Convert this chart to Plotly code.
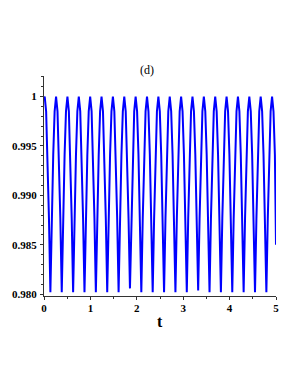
import plotly.graph_objects as go

# Time samples (peaks, shoulders, troughs of each cycle)
t_values = [
    0.000,
    0.015, 0.046, 0.076, 0.107, 0.1375, 0.168, 0.199, 0.229,
    0.260, 0.291, 0.321, 0.352, 0.3825, 0.413, 0.444, 0.474,
    0.505, 0.536, 0.566, 0.597, 0.6275, 0.658, 0.689, 0.719,
    0.750, 0.781, 0.811, 0.842, 0.8725, 0.903, 0.934, 0.964,
    0.995, 1.026, 1.056, 1.087, 1.1175, 1.148, 1.179, 1.209,
    1.240, 1.271, 1.301, 1.332, 1.3625, 1.393, 1.424, 1.454,
    1.485, 1.516, 1.546, 1.577, 1.6075, 1.638, 1.669, 1.699,
    1.730, 1.761, 1.791, 1.822, 1.8525, 1.883, 1.914, 1.944,
    1.975, 2.006, 2.036, 2.067, 2.0975, 2.128, 2.159, 2.189,
    2.220, 2.251, 2.281, 2.312, 2.3425, 2.373, 2.404, 2.434,
    2.465, 2.496, 2.526, 2.557, 2.5875, 2.618, 2.649, 2.679,
    2.710, 2.741, 2.771, 2.802, 2.8325, 2.863, 2.894, 2.924,
    2.955, 2.986, 3.016, 3.047, 3.0775, 3.108, 3.139, 3.169,
    3.200, 3.231, 3.261, 3.292, 3.3225, 3.353, 3.384, 3.414,
    3.445, 3.476, 3.506, 3.537, 3.5675, 3.598, 3.629, 3.659,
    3.690, 3.721, 3.751, 3.782, 3.8125, 3.843, 3.874, 3.904,
    3.935, 3.966, 3.996, 4.027, 4.0575, 4.088, 4.119, 4.149,
    4.180, 4.211, 4.241, 4.272, 4.3025, 4.333, 4.364, 4.394,
    4.425, 4.456, 4.486, 4.517, 4.5475, 4.578, 4.609, 4.639,
    4.670, 4.701, 4.731, 4.762, 4.7925, 4.823, 4.854, 4.884,
    4.915, 4.946, 4.976, 5.000,
]

y_values = [
    0.9997,
    1.0, 0.9985, 0.9941, 0.9877, 0.9802, 0.9877, 0.9941, 0.9985,
    1.0, 0.9985, 0.9941, 0.9877, 0.9802, 0.9877, 0.9941, 0.9985,
    1.0, 0.9985, 0.9941, 0.9877, 0.9802, 0.9877, 0.9941, 0.9985,
    1.0, 0.9985, 0.9941, 0.9877, 0.9802, 0.9877, 0.9941, 0.9985,
    1.0, 0.9985, 0.9941, 0.9877, 0.9802, 0.9877, 0.9941, 0.9985,
    1.0, 0.9985, 0.9941, 0.9877, 0.9802, 0.9877, 0.9941, 0.9985,
    1.0, 0.9985, 0.9941, 0.9877, 0.9802, 0.9877, 0.9941, 0.9985,
    1.0, 0.9985, 0.9941, 0.9877, 0.9806, 0.9877, 0.9941, 0.9985,
    1.0, 0.9985, 0.9941, 0.9877, 0.9802, 0.9877, 0.9941, 0.9985,
    1.0, 0.9985, 0.9941, 0.9877, 0.9802, 0.9877, 0.9941, 0.9985,
    1.0, 0.9985, 0.9941, 0.9877, 0.9802, 0.9877, 0.9941, 0.9985,
    1.0, 0.9985, 0.9941, 0.9877, 0.9802, 0.9877, 0.9941, 0.9985,
    1.0, 0.9985, 0.9941, 0.9877, 0.9802, 0.9877, 0.9941, 0.9985,
    1.0, 0.9985, 0.9941, 0.9877, 0.9804, 0.9877, 0.9941, 0.9985,
    1.0, 0.9985, 0.9941, 0.9877, 0.9802, 0.9877, 0.9941, 0.9985,
    1.0, 0.9985, 0.9941, 0.9877, 0.9802, 0.9877, 0.9941, 0.9985,
    1.0, 0.9985, 0.9941, 0.9877, 0.9802, 0.9877, 0.9941, 0.9985,
    1.0, 0.9985, 0.9941, 0.9877, 0.9802, 0.9877, 0.9941, 0.9985,
    1.0, 0.9985, 0.9941, 0.9877, 0.9802, 0.9877, 0.9941, 0.9985,
    1.0, 0.9985, 0.9941, 0.9877, 0.9802, 0.9877, 0.9941, 0.9985,
    1.0, 0.9985, 0.9941, 0.985,
]

x_tick_vals = [0, 1, 2, 3, 4, 5]
x_tick_text = ["0", "1", "2", "3", "4", "5"]
y_tick_vals = [0.980, 0.985, 0.990, 0.995, 1.0]
y_tick_text = ["0.980", "0.985", "0.990", "0.995", "1"]

SERIF = "Liberation Serif, Times New Roman, serif"

fig = go.Figure()
fig.add_trace(go.Scatter(
    x=t_values, y=y_values, mode="lines",
    line=dict(color="#0000FF", width=2),
    showlegend=False, hoverinfo="skip",
))

fig.update_layout(
    width=300, height=388,
    margin=dict(l=36, r=32, t=68, b=100, autoexpand=False),
    paper_bgcolor="white", plot_bgcolor="white",
    title=dict(text="(d)", x=139/300, xanchor="center",
               y=1 - 62/388, yanchor="middle",
               font=dict(family=SERIF, size=12, color="black")),
    annotations=[dict(text="<b>t</b>", xref="paper", yref="paper",
                      x=0.5, y=-25/220, xanchor="center", yanchor="middle",
                      showarrow=False,
                      font=dict(family=SERIF, size=16, color="black"))],
)

fig.update_xaxes(
    range=[0, 5], showgrid=False, zeroline=False,
    showline=True, linecolor="#333333", linewidth=1,
    ticks="outside", ticklen=3, tickcolor="#333333",
    tickvals=x_tick_vals, ticktext=[f"<b>{s}</b>" for s in x_tick_text],
    tickfont=dict(family=SERIF, size=11, color="black"),
    ticklabelstandoff=-1,
    minor=dict(dtick=0.5, ticks="outside", ticklen=2, tickcolor="#333333"),
)
fig.update_yaxes(
    range=[0.97983, 1.00207], showgrid=False, zeroline=False,
    showline=True, linecolor="#333333", linewidth=1,
    ticks="outside", ticklen=3, tickcolor="#333333",
    tickvals=y_tick_vals, ticktext=[f"<b>{s}</b>" for s in y_tick_text],
    tickfont=dict(family=SERIF, size=11, color="black"),
    ticklabelstandoff=1,
    minor=dict(dtick=0.001, tick0=0.98, ticks="outside", ticklen=2, tickcolor="#333333"),
)

fig.write_html("out.html")
